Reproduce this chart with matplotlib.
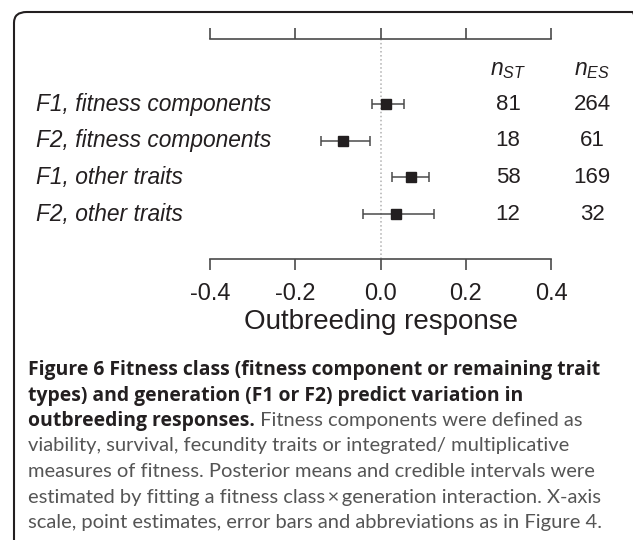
import numpy as np
import matplotlib
matplotlib.use('Agg')
import matplotlib.pyplot as plt
from matplotlib.patches import FancyBboxPatch

# data
groups = ['F1, fitness components', 'F2, fitness components',
          'F1, other traits', 'F2, other traits']
means = np.array([0.014, -0.087, 0.071, 0.036])
lower = np.array([-0.021, -0.139, 0.027, -0.041])
upper = np.array([0.055, -0.024, 0.114, 0.125])
n_st = [81, 18, 58, 12]
n_es = [264, 61, 169, 32]
ticks = [-0.4, -0.2, 0.0, 0.2, 0.4]
tick_labels = ['-0.4', '-0.2', '0.0', '0.2', '0.4']

caption_bold = ['Figure 6 Fitness class (fitness component or remaining trait',
                'types) and generation (F1 or F2) predict variation in',
                'outbreeding responses.']
caption_rest = [' Fitness components were defined as',
                'viability, survival, fecundity traits or integrated/ multiplicative',
                'measures of fitness. Posterior means and credible intervals were',
                'estimated by fitting a fitness class\u2009\u00d7\u2009generation interaction. X-axis',
                'scale, point estimates, error bars and abbreviations as in Figure 4.']

plt.rcParams['font.family'] = ['Liberation Sans', 'DejaVu Sans']
plt.rcParams['axes.unicode_minus'] = False
plt.rcParams['mathtext.fontset'] = 'custom'
plt.rcParams['mathtext.it'] = 'Liberation Sans:italic'
plt.rcParams['mathtext.rm'] = 'Liberation Sans'

W, H = 633, 540
ink = '#231f20'
grey = '#555555'

fig = plt.figure(figsize=(W / 100, H / 100), dpi=100)

# rounded frame around the panel (runs off the right and bottom)
box = FancyBboxPatch((14 / W, -20 / H), (645 - 14) / W, (H - 12 + 20) / H,
                     boxstyle='round,pad=0,rounding_size=0.02',
                     transform=fig.transFigure, fill=False,
                     edgecolor=ink, linewidth=1.5)
fig.patches.append(box)

# plot area: top axis line at y=39px, bottom axis line at y=259px
ax = fig.add_axes([0, 1 - 259 / H, 1, 220 / H])
ax.patch.set_visible(False)
ppu = (551 - 210) / 0.8
ax.set_xlim(-0.4 - 210 / ppu, -0.4 + (W - 210) / ppu)
row_px = 36.7
ax.set_ylim((220 - 65) / row_px, -65 / row_px)

rows = np.arange(len(groups))
ax.axvline(0, color='#b0b0b0', linestyle=':', linewidth=1.1, zorder=0)
ax.errorbar(means, rows, xerr=[means - lower, upper - means], fmt='s',
            color=ink, ecolor='#4a4a4a', elinewidth=1.1, capsize=3.5,
            capthick=1.1, markersize=7)

for side in ['left', 'right']:
    ax.spines[side].set_visible(False)
for side in ['top', 'bottom']:
    ax.spines[side].set_bounds(ticks[0], ticks[-1])
    ax.spines[side].set_color('#4a4a4a')
    ax.spines[side].set_linewidth(1.2)
ax.set_yticks([])
ax.set_xticks(ticks)
ax.set_xticklabels(tick_labels)
ax.tick_params(axis='x', top=True, labeltop=False, direction='out',
               length=8, width=1.2, color='#4a4a4a', labelcolor=ink,
               labelsize=17, pad=9)
fig.text(380.5 / W, 1 - 322 / H, 'Outbreeding response', fontsize=20,
         color=ink, ha='center', va='center')

tr = ax.get_yaxis_transform()
for i, g in enumerate(groups):
    ax.text(36 / W, i, g, transform=tr, ha='left', va='center',
            fontsize=16.4, style='italic', color=ink)
    ax.text(508 / W, i, str(n_st[i]), transform=tr, ha='center',
            va='center', fontsize=16, color=ink)
    ax.text(592 / W, i, str(n_es[i]), transform=tr, ha='center',
            va='center', fontsize=16, color=ink)
ax.text(508 / W, -0.95, r'$n_{ST}$', transform=tr, ha='center', va='center',
        fontsize=16.5, color=ink)
ax.text(592 / W, -0.95, r'$n_{ES}$', transform=tr, ha='center', va='center',
        fontsize=16.5, color=ink)

# caption, font sizes fitted to the line widths of the original
bold_font = ['Open Sans', 'DejaVu Sans']
cap_font = ['Lato', 'DejaVu Sans']
x0 = 28 / W
renderer = fig.canvas.get_renderer()


def fit_size(text, target_px, family, **kw):
    probe = fig.text(x0, 0.5, text, family=family, fontsize=12, **kw)
    w = probe.get_window_extent(renderer).width
    probe.remove()
    return 12 * target_px / w


bold_size = fit_size(caption_bold[0], 597 - 28, bold_font, fontweight='bold')
cap_size = fit_size(caption_rest[-1], 600 - 28, cap_font)

base_first, y_step = 375, 25.5
for i, line in enumerate(caption_bold):
    t = fig.text(x0, 1 - (base_first + i * y_step) / H, line,
                 family=bold_font, fontsize=bold_size, fontweight='bold',
                 color=ink, va='baseline', ha='left')
x_end = t.get_window_extent(renderer).x1 / W
fig.text(x_end, 1 - (base_first + 2 * y_step) / H, caption_rest[0],
         family=cap_font, fontsize=cap_size, color=grey, va='baseline',
         ha='left')
for j, line in enumerate(caption_rest[1:]):
    i = j + 3
    fig.text(x0, 1 - (base_first + i * y_step) / H, line, family=cap_font,
             fontsize=cap_size, color=grey, va='baseline', ha='left')

fig.savefig('out.png', dpi=100)
